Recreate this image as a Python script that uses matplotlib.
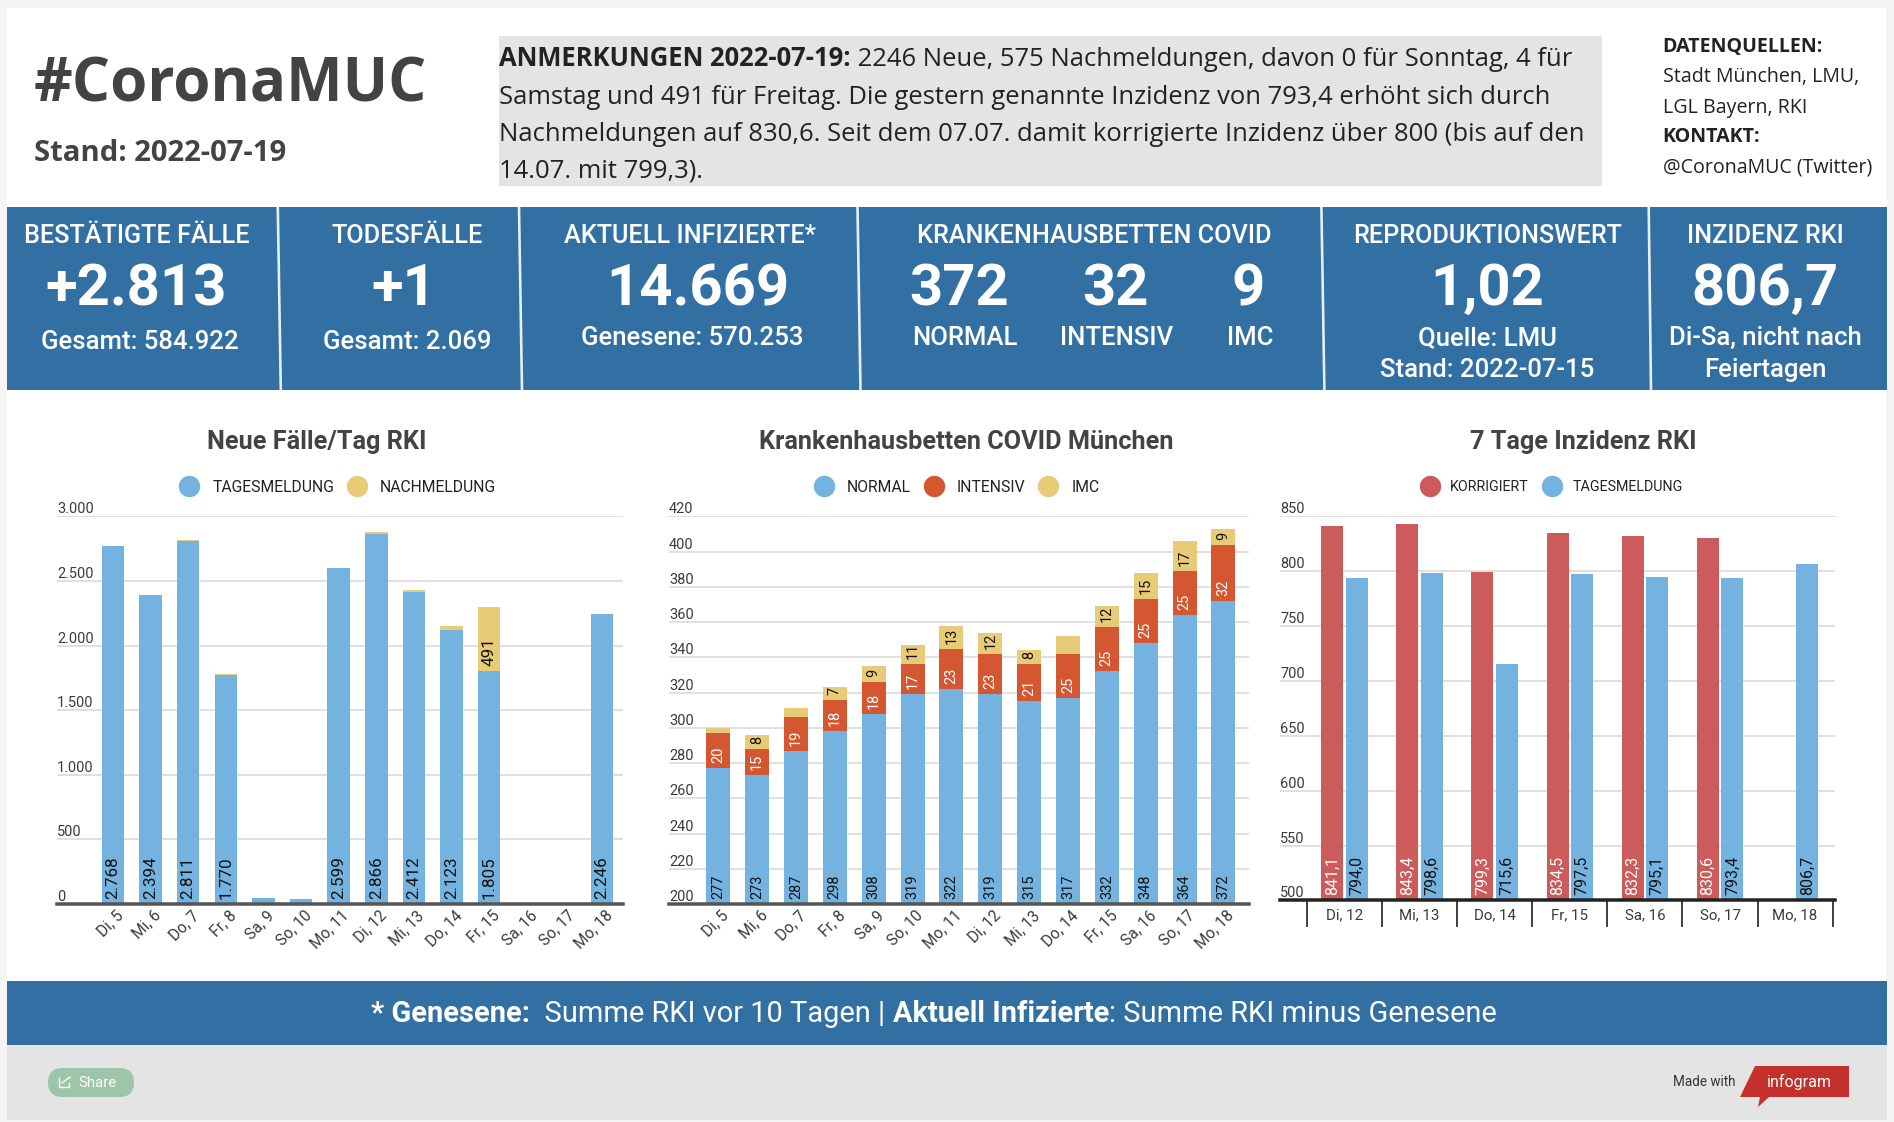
import matplotlib
matplotlib.use("Agg")
import matplotlib.pyplot as plt
from matplotlib.lines import Line2D
from matplotlib.patches import Rectangle, Polygon, FancyBboxPatch
from matplotlib.transforms import Affine2D

# ---------- data ----------
days1 = ["Di, 5","Mi, 6","Do, 7","Fr, 8","Sa, 9","So, 10","Mo, 11","Di, 12","Mi, 13","Do, 14","Fr, 15","Sa, 16","So, 17","Mo, 18"]
faelle_tag = [2768,2394,2811,1770,50,38,2599,2866,2412,2123,1805,0,0,2246]
faelle_nach = [0,0,3,8,0,0,0,11,19,28,491,0,0,0]
faelle_ticks = [0,500,1000,1500,2000,2500,3000]

betten_normal = [277,273,287,298,308,319,322,319,315,317,332,348,364,372]
betten_intensiv = [20,15,19,18,18,17,23,23,21,25,25,25,25,32]
betten_imc = [3,8,5,7,9,11,13,12,8,10,12,15,17,9]
imc_unlabelled = ["Di, 5","Do, 7","Do, 14"]
betten_ticks = [200,220,240,260,280,300,320,340,360,380,400,420]

days3 = ["Di, 12","Mi, 13","Do, 14","Fr, 15","Sa, 16","So, 17","Mo, 18"]
inz_korr = [841.1,843.4,799.3,834.5,832.3,830.6,None]
inz_tag = [794.0,798.6,715.6,797.5,795.1,793.4,806.7]
inz_ticks = [500,550,600,650,700,750,800,850]

note_lines = [
    [("ANMERKUNGEN 2022-07-19:", True), (" 2246 Neue, 575 Nachmeldungen, davon 0 für Sonntag, 4 für", False)],
    [("Samstag und 491 für Freitag. Die gestern genannte Inzidenz von 793,4 erhöht sich durch", False)],
    [("Nachmeldungen auf 830,6. Seit dem 07.07. damit korrigierte Inzidenz über 800 (bis auf den", False)],
    [("14.07. mit 799,3).", False)],
]
footer_parts = [("* Genesene:", True), ("  Summe RKI vor 10 Tagen | ", False), ("Aktuell Infizierte", True), (": Summe RKI minus Genesene", False)]

BLUE = "#74b3e0"; YEL = "#e8cb76"; ORA = "#d45731"; RED = "#cc5c5b"
BAND = "#3270a4"; GREY = "#e4e4e4"; GRID = "#e0e0e0"; TXT = "#434343"

W, H = 1894, 1122
plt.rcParams["font.family"] = ["Roboto", "DejaVu Sans"]
fig = plt.figure(figsize=(W/100, H/100), dpi=100, facecolor="#f5f5f5")
bg = fig.add_axes([0, 0, 1, 1], zorder=0)
bg.set_xlim(0, W); bg.set_ylim(H, 0); bg.axis("off")
rend = fig.canvas.get_renderer()

def pt(px):
    return px * 0.72

def rect(x0, y0, x1, y1, c):
    bg.add_patch(Rectangle((x0, y0), x1-x0, y1-y0, fc=c, ec="none"))

def txt(x, y, s, px, c="white", ha="center", bold=False, family="Roboto"):
    weight = {True: "bold", False: "normal"}.get(bold, bold)
    return bg.text(x, y, s, fontsize=pt(px), color=c, ha=ha, va="baseline",
                   fontweight=weight, family=family)

def run(x, y, parts, px, c, family, center=False):
    ts = [txt(0, y, s.replace(" ", "\u00a0"), px, c, "left", b, family) for s, b in parts]
    ws = [t.get_window_extent(rend).width for t in ts]
    if center:
        x -= sum(ws)/2
    for t, w in zip(ts, ws):
        t.set_x(x); x += w

# ---------- panels ----------
rect(7, 8, 1886, 1120, "white")
rect(499, 36, 1602, 186, GREY)
rect(7, 207, 1887, 390, BAND)
for a, b in [(277.8,280.8),(519,522),(857.5,860.5),(1321.4,1324.4),(1648.7,1651)]:
    bg.plot([a, b], [207, 390], color="#e8eef4", lw=pt(2.6), solid_capstyle="butt")
rect(7, 981, 1887, 1045, BAND)
rect(7, 1045, 1887, 1120, GREY)

# ---------- header ----------
txt(34, 101, "#CoronaMUC", 60, TXT, "left", True, "Open Sans")
txt(34, 161, "Stand: 2022-07-19", 29.3, TXT, "left", True, "Open Sans")
for parts, y in zip(note_lines, [66, 104, 141, 177]):
    run(499, y, parts, 25.6, "#222222", "Open Sans")
for s, y, b in [("DATENQUELLEN:",52,True),("Stadt München, LMU,",82,False),("LGL Bayern, RKI",113,False),
                ("KONTAKT:",142,True),("@CoronaMUC (Twitter)",172,False)]:
    txt(1662.6, y, s, 19.6, "#222222", "left", b, "Open Sans")

# ---------- KPI boxes ----------
T, V, S = 25.3, 58, 25.8
for x, s in [(137,"BESTÄTIGTE FÄLLE"),(407.6,"TODESFÄLLE"),(690,"AKTUELL INFIZIERTE*"),
             (1094,"KRANKENHAUSBETTEN COVID"),(1487.5,"REPRODUKTIONSWERT"),(1765,"INZIDENZ RKI")]:
    txt(x, 243, s, T, bold=500)
for x, s in [(136,"+2.813"),(404,"+1"),(697.5,"14.669"),(959,"372"),(1115,"32"),(1248,"9"),
             (1487.5,"1,02"),(1765,"806,7")]:
    txt(x, 305, s, V, bold=True)
for x, y, s in [(140,349,"Gesamt: 584.922"),(407.6,349,"Gesamt: 2.069"),(692.6,345,"Genesene: 570.253"),
                (965,345,"NORMAL"),(1117,345,"INTENSIV"),(1250,345,"IMC"),
                (1487.5,345,"Quelle: LMU"),(1487.5,377,"Stand: 2022-07-15"),
                (1765,345,"Di-Sa, nicht nach"),(1765,377,"Feiertagen")]:
    txt(x, y, s, S, bold=500)

# ---------- footer ----------
run(934, 1022, footer_parts, 29, "white", "Roboto", center=True)
bg.add_patch(FancyBboxPatch((48, 1068), 86, 29, boxstyle="round,pad=0,rounding_size=14.5", fc="#9cc5a9", ec="none"))
bg.plot([59,59,69,69],[1078,1087,1087,1083], color="white", lw=1)
bg.plot([62,70],[1083,1077], color="white", lw=1)
txt(78, 1087, "Share", 15, "white", "left")
txt(1673, 1086, "Made with", 13.5, "#333333", "left")
bg.add_patch(Polygon([(1755,1066),(1849,1066),(1849,1097),(1769,1097),(1758,1107),(1760,1097),(1740,1097)],
                     closed=True, fc="#c4302b", ec="none"))
txt(1799, 1087, "infogram", 16, "white")

# ---------- chart helpers ----------
def make_ax(left, right, top, base, xlim, ylim, ticks, lab, tick_px, base_c):
    ax = fig.add_axes([left/W, 1-base/H, (right-left)/W, (base-top)/H], zorder=2)
    ax.patch.set_alpha(0)
    ax.set_xlim(*xlim); ax.set_ylim(*ylim)
    for s in ["top", "left", "right"]:
        ax.spines[s].set_visible(False)
    ax.spines["bottom"].set_color(base_c); ax.spines["bottom"].set_linewidth(pt(3.5))
    ax.spines["bottom"].set_zorder(6)
    ax.set_axisbelow(True)
    ax.grid(axis="y", color=GRID, lw=pt(2))
    ax.set_yticks(ticks)
    ax.set_yticklabels(lab, ha="left", va="bottom", fontsize=pt(tick_px), color="#3a3a3a")
    ax.tick_params(axis="y", length=0, pad=0)
    return ax

def title(ax, s, cx, left, right, top, base, y=457):
    ax.set_title(s, x=(cx-left)/(right-left), y=(base-y)/(base-top), va="baseline",
                 fontsize=pt(25.2), fontweight="bold", color=TXT)

def legend(ax, items, cx, gap, px=15.8):
    hs = [Line2D([], [], marker="o", ls="", ms=pt(20), mfc=c, mec=c, label=l) for l, c in items]
    ax.legend(handles=hs, ncol=len(hs), loc="center", bbox_to_anchor=(cx, H-487),
              bbox_transform=Affine2D().scale(1, 1), frameon=False, fontsize=pt(px),
              handlelength=1.2, handletextpad=0.85, columnspacing=gap, borderpad=0, labelcolor="#222222")

def vlabel(ax, x, y, s, px, c):
    ax.annotate(s, (x, y), xytext=(0, 5), textcoords="offset pixels", rotation=90, ha="center", va="bottom",
                fontsize=pt(px), color=c, zorder=7)

def rot_labels(ax, x, labels):
    ax.set_xticks(x)
    ax.set_xticklabels(labels, rotation=45, ha="right", va="top", rotation_mode="anchor",
                       fontsize=pt(15.5), color="#3a3a3a")
    ax.tick_params(axis="x", length=0, pad=pt(4))
    off = Affine2D().translate(3, 0)
    for l in ax.get_xticklabels():
        l.set_transform(l.get_transform() + off)

de = lambda v: f"{v:,}".replace(",", ".")

# ---------- chart 1 ----------
L, R, Tp, Bs = 57, 623, 516.4, 904
step = (602-113)/13
x1 = list(range(len(days1)))
ax1 = make_ax(L, R, Tp, Bs, ((L-113)/step, (R-113)/step), (0, 3000), faelle_ticks,
              [de(v) for v in faelle_ticks], 14.5, "#555555")
w = 22.5/step
ax1.bar(x1, faelle_tag, w, color=BLUE, label="TAGESMELDUNG")
ax1.bar(x1, faelle_nach, w, bottom=faelle_tag, color=YEL, label="NACHMELDUNG")
for i, (a, b) in enumerate(zip(faelle_tag, faelle_nach)):
    if a >= 100:
        vlabel(ax1, i, 0, de(a), 17, "#111111")
    if b >= 100:
        vlabel(ax1, i, a, de(b), 17, "#111111")
rot_labels(ax1, x1, days1)
title(ax1, "Neue Fälle/Tag RKI", 317, L, R, Tp, Bs)
legend(ax1, [("TAGESMELDUNG", BLUE), ("NACHMELDUNG", YEL)], 338, 0.85)

# ---------- chart 2 ----------
L, R, Tp, Bs = 669, 1249, 516.4, 904
step = (1223.4-718.3)/13
ax2 = make_ax(L, R, Tp, Bs, ((L-718.3)/step, (R-718.3)/step), (200, 420), betten_ticks,
              [str(v) for v in betten_ticks], 14.5, "#555555")
w = 24/step
ax2.bar(x1, [v-200 for v in betten_normal], w, bottom=200, color=BLUE, label="NORMAL")
bot2 = betten_normal
ax2.bar(x1, betten_intensiv, w, bottom=bot2, color=ORA, label="INTENSIV")
bot3 = [a+b for a, b in zip(betten_normal, betten_intensiv)]
ax2.bar(x1, betten_imc, w, bottom=bot3, color=YEL, label="IMC")
for i, d in enumerate(days1):
    vlabel(ax2, i, 200, str(betten_normal[i]), 14.5, "#111111")
    vlabel(ax2, i, bot2[i], str(betten_intensiv[i]), 14.5, "white")
    if d not in imc_unlabelled:
        vlabel(ax2, i, bot3[i], str(betten_imc[i]), 14.5, "#111111")
rot_labels(ax2, x1, days1)
title(ax2, "Krankenhausbetten COVID München", 966, L, R, Tp, Bs)
legend(ax2, [("NORMAL", BLUE), ("INTENSIV", ORA), ("IMC", YEL)], 957, 0.85)

# ---------- chart 3 ----------
L, R, Tp, Bs = 1280, 1834.5, 516.4, 900.4
step = 75.1
ax3 = make_ax(L, R, Tp, Bs, ((L-1344.5)/step, (R-1344.5)/step), (500, 850), inz_ticks,
              [str(v) for v in inz_ticks], 14.5, "#222222")
w = 22/step; d = 12.3/step
x3 = list(range(len(days3)))
ax3.bar([i-d for i, v in zip(x3, inz_korr) if v], [v-500 for v in inz_korr if v], w, bottom=500, color=RED)
ax3.bar([i+d for i in x3], [v-500 for v in inz_tag], w, bottom=500, color=BLUE)
for i, (a, b) in enumerate(zip(inz_korr, inz_tag)):
    if a:
        vlabel(ax3, i-d, 500, f"{a:.1f}".replace(".", ","), 16, "white")
    vlabel(ax3, i+d, 500, f"{b:.1f}".replace(".", ","), 16, "#111111")
ax3.set_xticks(x3)
ax3.set_xticklabels(days3, fontsize=pt(15), color="#3a3a3a")
ax3.set_xticks([i-0.5 for i in x3]+[x3[-1]+0.5], minor=True)
ax3.tick_params(axis="x", which="major", length=0, pad=pt(8))
ax3.tick_params(axis="x", which="minor", length=pt(27), width=pt(2), color="#444444")
title(ax3, "7 Tage Inzidenz RKI", 1583, L, R, Tp, Bs)
legend(ax3, [("KORRIGIERT", RED), ("TAGESMELDUNG", BLUE)], 1552, 1.0, px=14.3)

fig.savefig("out.png", dpi=100, facecolor=fig.get_facecolor())
